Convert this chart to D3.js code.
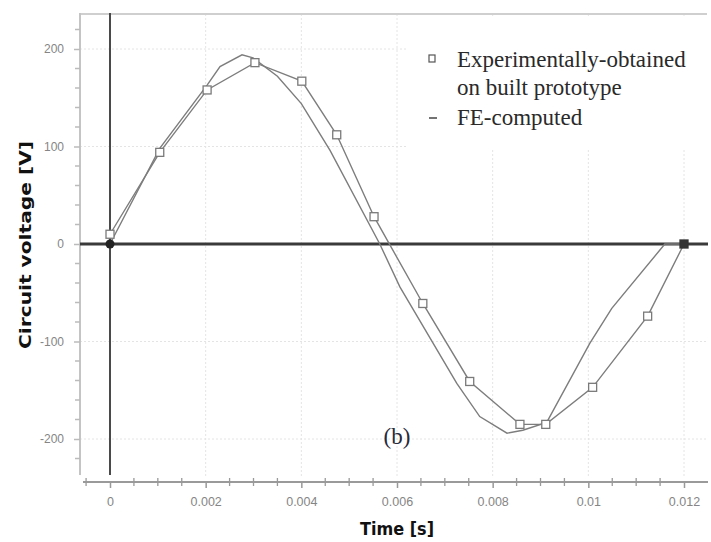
<!DOCTYPE html>
<html><head><meta charset="utf-8">
<script src="https://cdn.jsdelivr.net/npm/d3@7"></script>
<style>body{margin:0;background:#fff}svg{display:block}</style>
</head><body><svg id="c" width="711" height="542"></svg>
<script>
// Experimentally-obtained on built prototype: [time s, voltage V]
const expTime = [0, 0.00104, 0.00203, 0.00303, 0.00401, 0.00474, 0.00552, 0.00654, 0.00752, 0.00857, 0.00911, 0.01009, 0.01124, 0.012];
const expVolt = [10, 94, 158, 186, 167, 112, 28, -61, -141, -185, -185, -147, -74, 0];
// FE-computed
const feTime = [0, 0.00104, 0.00203, 0.0023, 0.00276, 0.00299, 0.0035, 0.004, 0.0046, 0.00564, 0.00606, 0.00725, 0.00773, 0.0083, 0.00863, 0.00913, 0.01003, 0.01049, 0.0116, 0.012];
const feVolt = [0, 98, 163, 182, 194, 191, 172, 144, 96, 0, -44, -143, -177, -194, -191, -183, -102, -66, 0, 0];
const xMajorTicks = [0, 0.002, 0.004, 0.006, 0.008, 0.01, 0.012];
const xTickLabels = ["0", "0.002", "0.004", "0.006", "0.008", "0.01", "0.012"];
const yMajorTicks = [-200, -100, 0, 100, 200];
const yTickLabels = ["-200", "-100", "0", "100", "200"];
const legendLabels = ["Experimentally-obtained", "on built prototype", "FE-computed"];

const svg = d3.select("#c");
const x = d3.scaleLinear().domain([0, 0.012]).range([110, 684]);
const y = d3.scaleLinear().domain([-200, 200]).range([439, 49]);

// grid
const grid = svg.append("g").attr("stroke", "#e4e4e4").attr("stroke-width", 1).attr("stroke-dasharray", "2,2");
xMajorTicks.filter(d => d > 0).forEach(d => grid.append("line").attr("x1", x(d)).attr("x2", x(d)).attr("y1", 14).attr("y2", 476));
yMajorTicks.filter(d => d !== 0).forEach(d => grid.append("line").attr("x1", 80).attr("x2", 707).attr("y1", y(d)).attr("y2", y(d)));

// legend background covers grid
svg.append("rect").attr("x", 408).attr("y", 16).attr("width", 300).attr("height", 132).attr("fill", "#fff");

// frame lines
svg.append("line").attr("x1", 80).attr("x2", 707).attr("y1", 14).attr("y2", 14).attr("stroke", "#cfcfcf").attr("stroke-width", 2);
svg.append("line").attr("x1", 80).attr("x2", 80).attr("y1", 13).attr("y2", 475).attr("stroke", "#c4c4c4").attr("stroke-width", 2);

// y axis
const yAxis = d3.axisLeft(y).tickValues(yMajorTicks).tickSize(6).tickFormat((d, i) => yTickLabels[i]);
const yg = svg.append("g").attr("transform", "translate(80,0)").call(yAxis);
yg.select(".domain").remove();
yg.selectAll(".tick line").attr("stroke", "#bbb").attr("stroke-width", 1.5);
yg.selectAll(".tick text").attr("fill", "#858585").attr("font-family", "Liberation Sans, Arial, sans-serif").attr("font-size", 12).attr("x", -16);
const yMinor = d3.range(-220, 221, 20).filter(d => d % 100 !== 0);
svg.append("g").selectAll("line").data(yMinor).join("line")
  .attr("x1", 75).attr("x2", 80).attr("y1", d => y(d)).attr("y2", d => y(d)).attr("stroke", "#bbb").attr("stroke-width", 1.5);

// x axis
const xAxis = d3.axisBottom(x).tickValues(xMajorTicks).tickSize(6).tickFormat((d, i) => xTickLabels[i]);
const xg = svg.append("g").attr("transform", "translate(0,482)").call(xAxis);
xg.select(".domain").remove();
svg.append("line").attr("x1", 83).attr("x2", 708).attr("y1", 482).attr("y2", 482).attr("stroke", "#9a9a9a").attr("stroke-width", 2);
xg.selectAll(".tick line").attr("stroke", "#999").attr("stroke-width", 1.5);
xg.selectAll(".tick text").attr("fill", "#858585").attr("font-family", "Liberation Sans, Arial, sans-serif").attr("font-size", 12.5).attr("y", 15);
const xMinor = d3.range(-1, 25).map(i => i * 0.0005).filter(d => Math.abs(Math.round(d / 0.002) * 0.002 - d) > 1e-9);
svg.append("g").selectAll("line").data(xMinor).join("line")
  .attr("x1", d => x(d)).attr("x2", d => x(d)).attr("y1", 478).attr("y2", 486).attr("stroke", "#999").attr("stroke-width", 1.3);

// zero lines
svg.append("line").attr("x1", x(0)).attr("x2", x(0)).attr("y1", 13).attr("y2", 475).attr("stroke", "#4a4a4a").attr("stroke-width", 2);
svg.append("line").attr("x1", 80).attr("x2", 708).attr("y1", y(0)).attr("y2", y(0)).attr("stroke", "#3a3a3a").attr("stroke-width", 3.2);

// series
const line = d3.line().x(d => x(d[0])).y(d => y(d[1]));
const feData = feTime.map((t, i) => [t, feVolt[i]]);
const expData = expTime.map((t, i) => [t, expVolt[i]]);
svg.append("path").datum(feData).attr("d", line).attr("fill", "none").attr("stroke", "#7d7d7d").attr("stroke-width", 1.4);
svg.append("path").datum(expData).attr("d", line).attr("fill", "none").attr("stroke", "#7d7d7d").attr("stroke-width", 1.4);
svg.append("g").selectAll("rect").data(expData).join("rect")
  .attr("x", d => x(d[0]) - 4).attr("y", d => y(d[1]) - 4).attr("width", 8).attr("height", 8)
  .attr("fill", (d, i) => i === expData.length - 1 ? "#333" : "#fff")
  .attr("stroke", (d, i) => i === expData.length - 1 ? "#333" : "#7a7a7a").attr("stroke-width", 1.3);
// dark point at origin
svg.append("circle").attr("cx", x(0)).attr("cy", y(0)).attr("r", 4.5).attr("fill", "#222");

// legend
const lg = svg.append("g").attr("font-family", "Liberation Serif, Times New Roman, serif").attr("font-size", 23).attr("fill", "#2a2a2a");
lg.append("rect").attr("x", 429).attr("y", 55).attr("width", 6).attr("height", 7).attr("fill", "none").attr("stroke", "#555").attr("stroke-width", 1.2);
lg.append("line").attr("x1", 429).attr("x2", 437).attr("y1", 118).attr("y2", 118).attr("stroke", "#444").attr("stroke-width", 1.5);
lg.append("text").attr("x", 457).attr("y", 67).text(legendLabels[0]);
lg.append("text").attr("x", 457).attr("y", 95).text(legendLabels[1]);
lg.append("text").attr("x", 457).attr("y", 125).text(legendLabels[2]);

// panel label
svg.append("text").attr("x", 397).attr("y", 444).attr("text-anchor", "middle")
  .attr("font-family", "Liberation Serif, Times New Roman, serif").attr("font-size", 23).attr("fill", "#2a2a3a").text("(b)");

// axis titles
svg.append("text").attr("transform", "translate(31,245) rotate(-90)").attr("text-anchor", "middle")
  .attr("font-family", "DejaVu Sans, sans-serif").attr("font-weight", "bold").attr("font-size", 16).attr("fill", "#111")
  .attr("textLength", 208).attr("lengthAdjust", "spacingAndGlyphs").text("Circuit voltage [V]");
svg.append("text").attr("x", 397).attr("y", 535).attr("text-anchor", "middle")
  .attr("font-family", "DejaVu Sans, sans-serif").attr("font-weight", "bold").attr("font-size", 17).attr("fill", "#111")
  .attr("textLength", 74).attr("lengthAdjust", "spacingAndGlyphs").text("Time [s]");
</script></body></html>
